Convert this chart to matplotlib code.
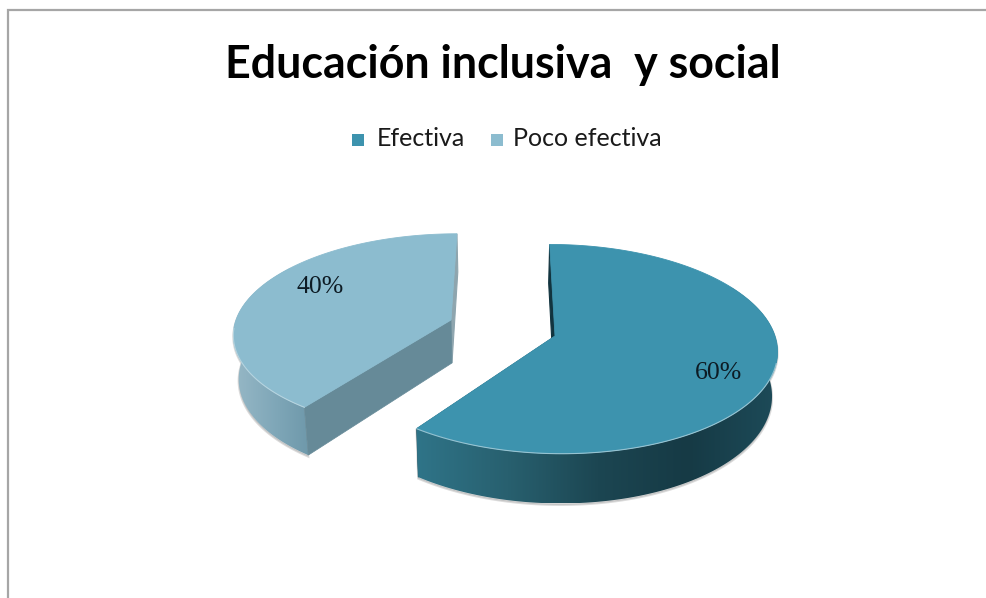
import numpy as np
import matplotlib
matplotlib.use('Agg')
import matplotlib.pyplot as plt
from matplotlib.colors import LinearSegmentedColormap
from matplotlib.patches import Polygon, Rectangle

title = 'Educación inclusiva  y social'
categories = ['Efectiva', 'Poco efectiva']
shares = [60, 40]
pct_labels = ['60%', '40%']

top_colors = ['#3d93ae', '#8cbccf']

fig = plt.figure(figsize=(9.86, 5.98), dpi=100)
ax = fig.add_axes([0, 0, 1, 1])
ax.set_xlim(0, 986)
ax.set_ylim(598, 0)
ax.axis('off')

# chart frame, only top and left edges are visible
ax.plot([8, 8, 986], [598, 10, 10], color='#a6a6a6', lw=1.6, solid_joinstyle='miter')


def project(t_deg, cx, cy, a, b, shear, k=0.125):
    # tilted disc with some perspective, t runs clockwise from the back
    t = np.radians(t_deg)
    u, v = np.sin(t), np.cos(t)
    return cx + (a * u + shear * v) / (1 + k * v), cy - b * v / (1 + k * v), v


def drop(x, y, v, depth, k=0.125, vanish_x=500):
    # lower rim of the disc, sides lean slightly to the vanishing point
    return vanish_x + (x - vanish_x) * 0.98, y + depth / (1 + k * v)


def gradient_fill(pts, stops, zorder):
    # horizontal colour ramp clipped to a polygon
    pts = np.asarray(pts)
    x0, x1 = pts[:, 0].min(), pts[:, 0].max()
    y0, y1 = pts[:, 1].min(), pts[:, 1].max()
    cmap = LinearSegmentedColormap.from_list('side', stops)
    ramp = np.linspace(0, 1, 256).reshape(1, -1)
    im = ax.imshow(ramp, cmap=cmap, extent=[x0, x1, y1, y0], aspect='auto', zorder=zorder)
    clip = Polygon(pts, closed=True, transform=ax.transData)
    im.set_clip_path(clip)


def draw_slice(start, end, wall_from, wall_to, cx, cy, a, b, shear, depth, color,
               wall_stops, cut_color, back_color, rim_from, rim_to, cut_z):
    ts = np.linspace(start, end, 200)
    x, y, _ = project(ts, cx, cy, a, b, shear)

    # soft edge under the walls
    tw = np.linspace(wall_from, wall_to, 120)
    wx, wy, wv = project(tw, cx, cy, a, b, shear)
    bx, by = drop(wx, wy, wv, depth)
    wall = np.r_[np.c_[wx, wy], np.c_[bx, by][::-1]]
    ax.add_patch(Polygon(wall + [0, 1.5], closed=True, fc='#9a9a9a', ec='#9a9a9a',
                         lw=1.5, alpha=0.35, zorder=2))

    # cut face at the back, mostly hidden by the top
    x_b, y_b, v_b = project(start if start == 0 else end, cx, cy, a, b, shear)
    x_bd, y_bd = drop(x_b, y_b, v_b, depth)
    apex_bd = drop(cx, cy, 0, depth)
    ax.add_patch(Polygon([(x_b, y_b), (x_bd, y_bd), apex_bd, (cx, cy)], closed=True,
                         fc=back_color, ec=back_color, lw=0.8, zorder=2.5))

    # outer wall
    gradient_fill(wall, wall_stops, 3)

    # front cut face
    x_c, y_c, v_c = project(end if start == 0 else start, cx, cy, a, b, shear)
    x_cd, y_cd = drop(x_c, y_c, v_c, depth)
    ax.add_patch(Polygon([(cx, cy), (x_c, y_c), (x_cd, y_cd), apex_bd], closed=True,
                         fc=cut_color, ec=cut_color, lw=0.5, zorder=cut_z))

    # top surface
    top = np.r_[[(cx, cy)], np.c_[x, y]]
    ax.add_patch(Polygon(top, closed=True, fc=color, ec=color, lw=0.6, zorder=4))

    # thin highlight along the front rim
    tr = np.linspace(rim_from, rim_to, 120)
    rx, ry, _ = project(tr, cx, cy, a, b, shear)
    ax.plot(rx, ry, color='#cfe3ea', lw=0.8, alpha=0.6, zorder=5)


angle_first = 360 * shares[0] / sum(shares)

draw_slice(0, angle_first, 60, angle_first, 555, 336, 220, 103, -6, 43.5, top_colors[0],
           ['#2f7488', '#28606f', '#1c4652', '#163a45', '#1d4b59'],
           '#245a6a', '#12343f', 105, angle_first, 2.6)

draw_slice(angle_first, 360, angle_first, 305, 451, 320, 215, 97, 6.7, 43, top_colors[1],
           ['#97b8c6', '#82a9ba', '#6f99ab'],
           '#668a98', '#8ea5ae', angle_first, 265, 3.5)

# title and legend
ax.text(503, 65, title, family='Lato', weight='bold', fontsize=32.2, color='#000000',
        ha='center', va='center')

legend_x = [352, 491]
text_x = [377, 513]
for i, name in enumerate(categories):
    ax.add_patch(Rectangle((legend_x[i], 134), 12, 12, fc=top_colors[i], ec='none'))
    ax.text(text_x[i], 139, name, family='Lato', fontsize=18, color='#1a1a1a',
            ha='left', va='center')

# percentage labels sit on the slices
label_pos = [(719, 373), (320, 287)]
for lab, (lx, ly) in zip(pct_labels, label_pos):
    ax.text(lx, ly, lab, family='Liberation Serif', fontsize=18.5, color='#0d1b24',
            ha='center', va='center', zorder=6)

ax.set_xlim(0, 986)
ax.set_ylim(598, 0)
fig.savefig('out.png', dpi=100, facecolor='white')
